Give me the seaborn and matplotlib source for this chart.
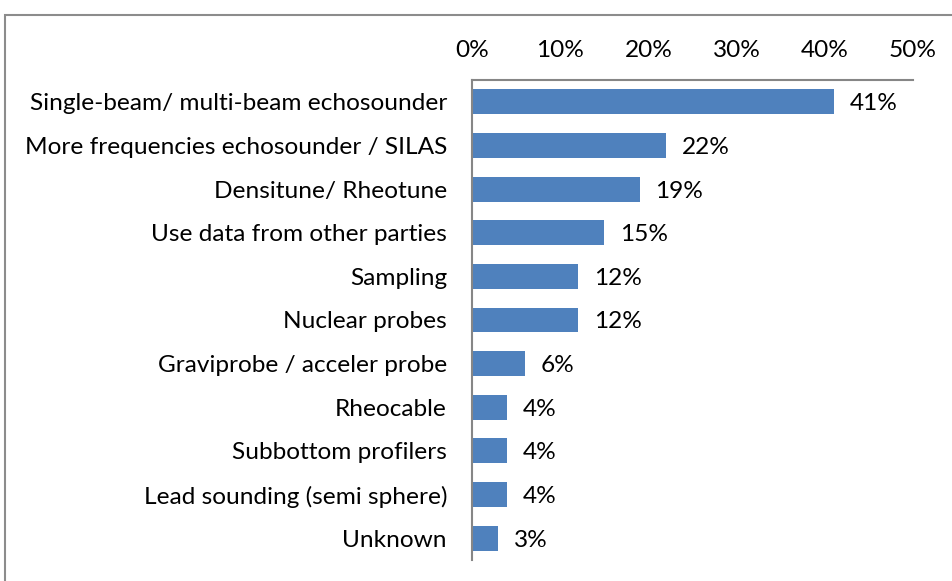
import matplotlib
matplotlib.use("Agg")
import matplotlib.pyplot as plt
import seaborn as sns
import pandas as pd
from matplotlib.patches import Rectangle

categories = [
    "Single-beam/ multi-beam echosounder",
    "More frequencies echosounder / SILAS",
    "Densitune/ Rheotune",
    "Use data from other parties",
    "Sampling",
    "Nuclear probes",
    "Graviprobe / acceler probe",
    "Rheocable",
    "Subbottom profilers",
    "Lead sounding (semi sphere)",
    "Unknown",
]
values = [41, 22, 19, 15, 12, 12, 6, 4, 4, 4, 3]
tick_values = [0, 10, 20, 30, 40, 50]
tick_labels = ["0%", "10%", "20%", "30%", "40%", "50%"]

df = pd.DataFrame({"category": categories, "value": values})

sns.set_theme(style="white")
plt.rcParams["font.family"] = ["Lato", "DejaVu Sans"]
FS = 17.6
TXT = "#000000"
GRID = "#868686"

fig = plt.figure(figsize=(9.52, 5.81), dpi=100)
ax = fig.add_axes([472 / 952, 1 - 560 / 581, (913 - 472) / 952, (560 - 80) / 581])

sns.barplot(data=df, x="value", y="category", orient="h", color="#4F81BD",
            saturation=1, width=1 / 1.75, ax=ax, edgecolor="#4F81BD", linewidth=0)

ax.set_xlim(0, 50)
ax.set_ylim(len(categories) - 0.5, -0.5)
ax.set_xticks(tick_values)
ax.set_xticklabels(tick_labels, fontsize=FS, color=TXT)
ax.xaxis.tick_top()
ax.tick_params(axis="x", length=0, pad=13.5)
ax.tick_params(axis="y", length=0, pad=18, labelsize=FS, labelcolor=TXT)
for lbl in ax.get_yticklabels():
    lbl.set_verticalalignment("center_baseline")
ax.set_xlabel("")
ax.set_ylabel("")

for s in ["right", "bottom"]:
    ax.spines[s].set_visible(False)
for s in ["top", "left"]:
    ax.spines[s].set_visible(True)
    ax.spines[s].set_color(GRID)
    ax.spines[s].set_linewidth(1.5)

for i, v in enumerate(values):
    ax.text(v + 1.8, i, f"{v}%", va="center_baseline", ha="left", fontsize=FS, color=TXT)

fig.patches.append(Rectangle((5 / 952, -0.1), 1.2, 1 - 15 / 581 + 0.1,
                             transform=fig.transFigure, fill=False,
                             edgecolor="#8C8C8C", linewidth=1.5))

fig.savefig("out.png", dpi=100, facecolor="white")
